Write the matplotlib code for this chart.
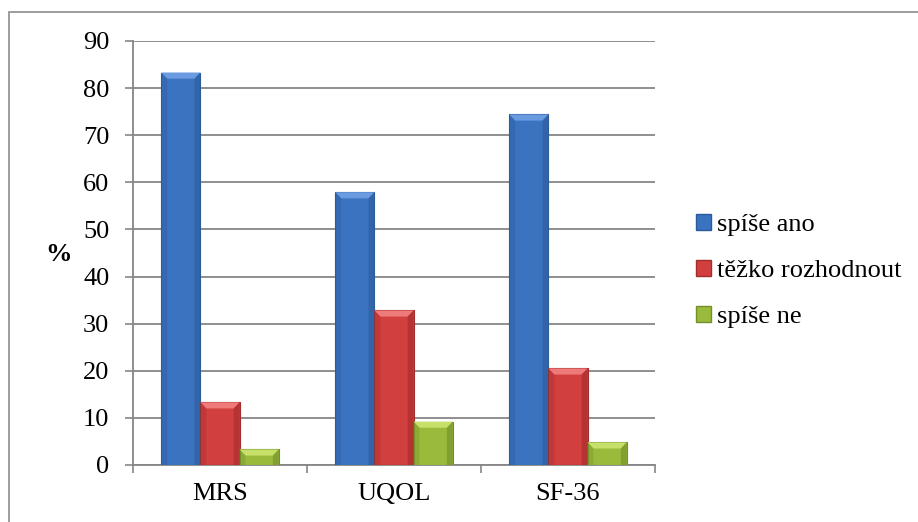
import numpy as np
import matplotlib.pyplot as plt
from matplotlib.patches import Polygon, Rectangle, Patch

categories = ['MRS', 'UQOL', 'SF-36']
series_names = ['spíše ano', 'těžko rozhodnout', 'spíše ne']
spise_ano = [83.3, 57.9, 74.4]
tezko = [13.3, 32.8, 20.5]
spise_ne = [3.3, 9.2, 4.8]
y_ticks = [0, 10, 20, 30, 40, 50, 60, 70, 80, 90]

# face, light bevel, dark edge
colors = [('#3b73c1', '#6a9be0', '#2b5b99'),
          ('#d13f3f', '#ee7a7a', '#a52c2c'),
          ('#9aba3c', '#c6e06a', '#72902a')]

plt.rcParams['font.family'] = ['Liberation Serif', 'DejaVu Serif']

fig = plt.figure(figsize=(9.18, 5.22), dpi=100)
ax = fig.add_axes([0.1449, 0.1092, 0.7135 - 0.1449, 0.9215 - 0.1092])

# chart frame (runs off the right and bottom edges)
fig.patches.append(Rectangle((0.0098, -0.05), 1.1, 1.027, transform=fig.transFigure,
                             fill=False, edgecolor='#8c8c8c', linewidth=1.2))

x = np.arange(len(categories))
width = 0.225
bx, by = 0.034, 1.3

for i, vals in enumerate([spise_ano, tezko, spise_ne]):
    face, light, dark = colors[i]
    xs = x + (i - 1) * width
    ax.bar(xs, vals, width, color=face, edgecolor=dark, linewidth=0.8, zorder=3)
    for xc, h in zip(xs, vals):
        x0, x1 = xc - width / 2, xc + width / 2
        b = min(by, h / 2)
        ax.add_patch(Polygon([(x0, h), (x1, h), (x1 - bx, h - b), (x0 + bx, h - b)],
                             closed=True, facecolor=light, edgecolor='none', zorder=4))
        ax.add_patch(Polygon([(x0, 0), (x0, h), (x0 + bx, h - b), (x0 + bx, 0)],
                             closed=True, facecolor=dark, alpha=0.35, edgecolor='none', zorder=4))
        ax.add_patch(Polygon([(x1, 0), (x1, h), (x1 - bx, h - b), (x1 - bx, 0)],
                             closed=True, facecolor=dark, alpha=0.6, edgecolor='none', zorder=4))

ax.set_xlim(-0.5, 2.5)
ax.set_ylim(0, 90)
ax.set_yticks(y_ticks)
ax.set_xticks(x)
ax.set_xticklabels(categories)
ax.set_xticks([-0.5, 0.5, 1.5, 2.5], minor=True)
ax.tick_params(axis='x', which='major', length=0, pad=13, labelsize=19)
ax.tick_params(axis='x', which='minor', length=6, color='#868686', width=1.2, direction='out')
ax.tick_params(axis='y', length=6, color='#868686', width=1.2, pad=11, labelsize=19)

ax.grid(axis='y', color='#868686', linewidth=1.3, zorder=0)
ax.set_axisbelow(True)
for s in ['top', 'right']:
    ax.spines[s].set_visible(False)
for s in ['left', 'bottom']:
    ax.spines[s].set_color('#868686')
    ax.spines[s].set_linewidth(1.3)

fig.text(0.064, 0.512, '%', fontsize=19, fontweight='bold', ha='center', va='center')

handles = [Patch(facecolor=c[0], edgecolor=c[2], label=n) for c, n in zip(colors, series_names)]
fig.legend(handles=handles, loc='center left', bbox_to_anchor=(0.747, 0.481),
           frameon=False, fontsize=19, handlelength=0.57, handleheight=0.57,
           handletextpad=0.2, labelspacing=0.9, borderaxespad=0)

fig.savefig('out.png', dpi=100)
